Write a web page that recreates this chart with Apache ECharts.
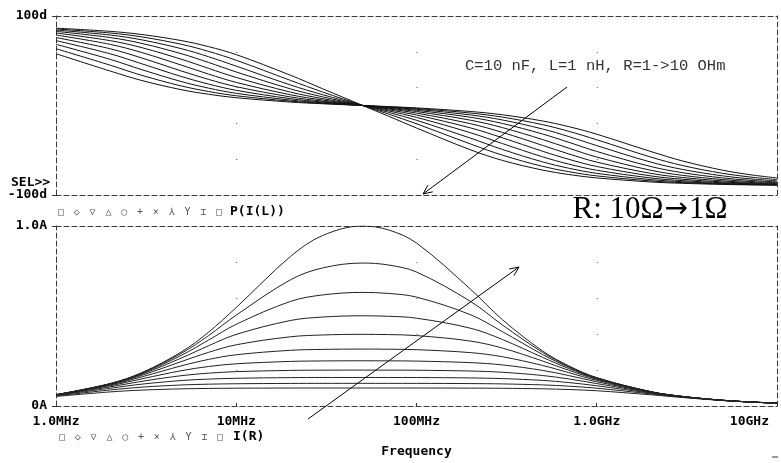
<!DOCTYPE html>
<html><head><meta charset="utf-8">
<script src="https://cdn.jsdelivr.net/npm/echarts@6/dist/echarts.min.js"></script>
<style>html,body{margin:0;padding:0;background:#fff}#c{width:781px;height:463px}</style>
</head><body><div id="c"></div>
<script>
const freqHz = [1e6,2e6,3e6,5e6,7e6,1e7,2e7,3e7,5e7,7e7,1e8,2e8,3e8,5e8,7e8,1e9,2e9,3e9,5e9,7e9,1e10];
const resistanceOhm = [1,1.26,1.58,2.0,2.51,3.16,3.98,5.01,6.31,7.94,10];
const legendSymbols = ['□','◇','▽','△','○','+','×','⅄','Y','⌶','□'];
const freqTickValues = [1e6,1e7,1e8,1e9,1e10];
const freqTickLabels = ['1.0MHz','10MHz','100MHz','1.0GHz','10GHz'];
const phaseTickLabels = ['-100d','100d'];
const currentTickLabels = ['0A','1.0A'];

// P(I(L)) phase in degrees, one array per R
const phaseR1_00 = [86.40,82.83,79.29,72.40,65.84,56.81,33.83,18.88,0.24,-12.00,-25.14,-49.65,-61.37,-72.17,-77.13,-80.93,-85.45,-86.96,-88.18,-88.70,-89.09];
const phaseR1_26 = [85.48,81.00,76.60,68.23,60.55,50.53,28.03,15.20,0.19,-9.58,-20.44,-43.08,-55.50,-67.96,-73.95,-78.64,-84.28,-86.18,-87.71,-88.36,-88.85];
const phaseR1_58 = [84.31,78.72,73.31,63.31,54.59,43.97,22.92,12.18,0.15,-7.64,-16.49,-36.60,-49.13,-62.99,-70.09,-75.81,-82.81,-85.19,-87.11,-87.94,-88.56];
const phaseR2_00 = [82.85,75.90,69.32,57.66,48.17,37.46,18.56,9.73,0.12,-6.08,-13.23,-30.54,-42.56,-57.31,-65.49,-72.34,-80.97,-83.96,-86.37,-87.40,-88.18];
const phaseR2_51 = [81.03,72.45,64.58,51.45,41.59,31.32,14.94,7.75,0.09,-4.84,-10.58,-25.11,-36.10,-51.07,-60.14,-68.16,-78.69,-82.41,-85.43,-86.73,-87.71];
const phaseR3_16 = [78.76,68.30,59.11,44.90,35.19,25.80,11.96,6.17,0.08,-3.84,-8.44,-20.42,-30.08,-44.52,-54.14,-63.23,-75.87,-80.47,-84.25,-85.89,-87.12];
const phaseR3_98 = [75.95,63.39,53.02,38.37,29.25,21.01,9.55,4.91,0.06,-3.05,-6.72,-16.47,-24.71,-37.99,-47.70,-57.58,-72.41,-78.07,-82.78,-84.83,-86.37];
const phaseR5_01 = [72.51,57.76,46.53,32.16,23.99,16.96,7.62,3.90,0.05,-2.43,-5.35,-13.22,-20.08,-31.82,-41.12,-51.35,-68.24,-75.11,-80.94,-83.50,-85.44];
const phaseR6_31 = [68.36,51.54,39.96,26.54,19.46,13.62,6.06,3.10,0.04,-1.93,-4.25,-10.57,-16.19,-26.24,-34.74,-44.81,-63.33,-71.49,-78.64,-81.84,-84.27];
const phaseR7_94 = [63.47,45.01,33.64,21.64,15.68,10.89,4.82,2.47,0.03,-1.53,-3.38,-8.43,-12.99,-21.38,-28.85,-38.27,-57.69,-67.14,-75.81,-79.76,-82.80];
const phaseR10_0 = [57.85,38.47,27.86,17.49,12.57,8.69,3.83,1.96,0.02,-1.22,-2.69,-6.71,-10.38,-17.27,-23.63,-32.08,-51.47,-62.05,-72.34,-77.19,-80.96];

// I(R) current in A, one array per R
const currentR1_00 = [0.0627,0.1249,0.1859,0.3024,0.4092,0.5474,0.8307,0.9462,1.0000,0.9781,0.9053,0.6475,0.4791,0.3061,0.2228,0.1576,0.0794,0.0530,0.0318,0.0227,0.0159];
const currentR1_26 = [0.0627,0.1243,0.1840,0.2947,0.3905,0.5049,0.7012,0.7665,0.7943,0.7832,0.7443,0.5802,0.4499,0.2981,0.2196,0.1564,0.0792,0.0529,0.0318,0.0227,0.0159];
const currentR1_58 = [0.0625,0.1234,0.1812,0.2835,0.3656,0.4541,0.5811,0.6167,0.6310,0.6253,0.6050,0.5065,0.4128,0.2865,0.2149,0.1547,0.0790,0.0529,0.0318,0.0227,0.0159];
const currentR2_00 = [0.0624,0.1221,0.1770,0.2681,0.3342,0.3978,0.4751,0.4940,0.5012,0.4984,0.4879,0.4317,0.3692,0.2706,0.2079,0.1520,0.0786,0.0528,0.0318,0.0227,0.0159];
const currentR2_51 = [0.0621,0.1200,0.1709,0.2481,0.2977,0.3401,0.3846,0.3945,0.3981,0.3967,0.3913,0.3605,0.3216,0.2501,0.1982,0.1481,0.0781,0.0526,0.0317,0.0227,0.0159];
const currentR3_16 = [0.0617,0.1169,0.1623,0.2240,0.2585,0.2847,0.3094,0.3144,0.3162,0.3155,0.3128,0.2964,0.2736,0.2255,0.1852,0.1425,0.0772,0.0523,0.0317,0.0227,0.0159];
const currentR3_98 = [0.0610,0.1125,0.1511,0.1969,0.2192,0.2345,0.2477,0.2503,0.2512,0.2508,0.2495,0.2409,0.2282,0.1979,0.1690,0.1347,0.0759,0.0519,0.0316,0.0226,0.0159];
const currentR5_01 = [0.0600,0.1065,0.1373,0.1689,0.1823,0.1908,0.1978,0.1991,0.1995,0.1993,0.1987,0.1942,0.1874,0.1695,0.1503,0.1246,0.0740,0.0513,0.0314,0.0226,0.0158];
const currentR6_31 = [0.0584,0.0986,0.1215,0.1418,0.1494,0.1540,0.1576,0.1583,0.1585,0.1584,0.1581,0.1558,0.1522,0.1422,0.1302,0.1124,0.0712,0.0503,0.0312,0.0225,0.0158];
const currentR7_94 = [0.0562,0.0890,0.1048,0.1170,0.1212,0.1236,0.1254,0.1258,0.1259,0.1258,0.1257,0.1245,0.1227,0.1172,0.1103,0.0988,0.0673,0.0489,0.0309,0.0224,0.0158];
const currentR10_0 = [0.0532,0.0783,0.0884,0.0954,0.0976,0.0989,0.0998,0.0999,0.1000,0.1000,0.0999,0.0993,0.0984,0.0955,0.0916,0.0847,0.0623,0.0469,0.0303,0.0222,0.0157];

const phaseSeries = [phaseR1_00,phaseR1_26,phaseR1_58,phaseR2_00,phaseR2_51,phaseR3_16,phaseR3_98,phaseR5_01,phaseR6_31,phaseR7_94,phaseR10_0];
const currentSeries = [currentR1_00,currentR1_26,currentR1_58,currentR2_00,currentR2_51,currentR3_16,currentR3_98,currentR5_01,currentR6_31,currentR7_94,currentR10_0];

const MONO = 'DejaVu Sans Mono';
const frameLine = {show:true, onZero:false, lineStyle:{color:'#3a3a3a', width:1, type:[5,3]}};
const dotGrid = {show:true, lineStyle:{color:'#555', width:1, type:[1,179.25]}};
const lblStyle = {fontFamily:MONO, fontWeight:'bold', fontSize:13, color:'#000'};

function freqLabel(v){
  let best = 0;
  freqTickValues.forEach((t,i)=>{ if (Math.abs(Math.log10(v/t)) < Math.abs(Math.log10(v/freqTickValues[best]))) best = i; });
  return best;
}
function logAxis(grid, pos, extra){
  return Object.assign({type:'log', logBase:10, min:1e6, max:1e10, gridIndex:grid, position:pos,
    axisLine:frameLine, axisTick:{show:false}, axisLabel:{show:false}, splitLine:{show:false}}, extra||{});
}
function valAxis(grid, pos, min, max, interval, extra){
  return Object.assign({type:'value', min:min, max:max, interval:interval, gridIndex:grid, position:pos,
    axisLine:{show:false}, axisTick:{show:false}, axisLabel:{show:false}, splitLine:{show:false}}, extra||{});
}

const series = [];
phaseSeries.forEach((arr, i) => {
  series.push({type:'line', name:'P'+resistanceOhm[i], xAxisIndex:0, yAxisIndex:0,
    data: freqHz.map((f,j)=>[f, arr[j]]), showSymbol:false, smooth:0.35,
    lineStyle:{color:'#111', width:1}, silent:true});
});
currentSeries.forEach((arr, i) => {
  series.push({type:'line', name:'I'+resistanceOhm[i], xAxisIndex:2, yAxisIndex:3,
    data: freqHz.map((f,j)=>[f, arr[j]]), showSymbol:false, smooth:0.35,
    lineStyle:{color:'#222', width:1}, silent:true});
});

function arrow(x1,y1,x2,y2){
  const a = Math.atan2(y2-y1, x2-x1), L = 10, s = 0.42;
  return [
    {type:'line', shape:{x1:x1,y1:y1,x2:x2,y2:y2}, style:{stroke:'#000', lineWidth:1}, z:100},
    {type:'polyline', shape:{points:[[x2-L*Math.cos(a-s), y2-L*Math.sin(a-s)],[x2,y2],[x2-L*Math.cos(a+s), y2-L*Math.sin(a+s)]]},
      style:{stroke:'#000', fill:null, lineWidth:1}, z:100}
  ];
}
function legendRow(y, x0, label, lx){
  const els = legendSymbols.map((s,i)=>({type:'text', x:x0+i*15.8, y:y,
    style:{text:s, fontSize:10, fill:'#555', align:'center', verticalAlign:'middle', fontFamily:MONO}}));
  els.push({type:'text', x:lx, y:y, style:{text:label, font:'bold 13px "'+MONO+'"', fill:'#000', verticalAlign:'middle'}});
  return els;
}

const graphic = [].concat(
  [{type:'text', x:11, y:183, style:{text:'SEL>>', font:'bold 13px "'+MONO+'"', fill:'#000', verticalAlign:'middle'}}],
  legendRow(212, 61, 'P(I(L))', 230),
  legendRow(437, 62, 'I(R)', 233),
  [{type:'text', x:465, y:66, style:{text:'C=10 nF, L=1 nH, R=1->10 OHm', font:'15.5px "Liberation Mono"', fill:'#333', verticalAlign:'middle'}, z:100},
   {type:'text', x:650, y:210, style:{text:'{a|R: 10Ω}{b|→}{a|1Ω}', align:'center', verticalAlign:'middle',
     rich:{a:{fontFamily:'Liberation Serif', fontSize:31, fill:'#000'}, b:{fontFamily:'DejaVu Sans', fontSize:28, fill:'#000', padding:[0,1,0,1]}}}, z:100},
   {type:'line', shape:{x1:772,y1:457,x2:778,y2:457}, style:{stroke:'#333', lineWidth:1}}],
  arrow(567,87,423,194),
  arrow(308,419,519,267)
);

const option = {
  animation:false,
  backgroundColor:'#fff',
  grid:[{left:56, right:4, top:16, height:179}, {left:56, right:4, top:226, height:180}],
  xAxis:[
    logAxis(0,'bottom'),
    logAxis(0,'top'),
    logAxis(1,'bottom', {
      axisTick:{show:true, inside:true, length:3, lineStyle:{color:'#333'}},
      axisLabel:{show:true, margin:9, showMinLabel:true, showMaxLabel:true, alignMaxLabel:'right',
        fontFamily:MONO, fontWeight:'bold', fontSize:13, color:'#000',
        formatter:(v)=>{ const i = freqLabel(v); return i===freqTickLabels.length-1 ? '{r|'+freqTickLabels[i]+'}' : freqTickLabels[i]; },
        rich:{r:{fontFamily:MONO, fontWeight:'bold', fontSize:13, color:'#000', padding:[0,8,0,0]}}},
      name:'Frequency', nameLocation:'middle', nameGap:39,
      nameTextStyle:{fontFamily:MONO, fontWeight:'bold', fontSize:13, color:'#000'}
    }),
    logAxis(1,'top')
  ],
  yAxis:[
    valAxis(0,'left',-100,100,40,{axisLine:frameLine, splitLine:dotGrid}),
    valAxis(0,'left',-100,100,200,{axisTick:{show:true, length:4, lineStyle:{color:'#333'}},
      axisLabel:Object.assign({show:true, margin:9, formatter:(v)=> v>0 ? phaseTickLabels[1] : phaseTickLabels[0]}, lblStyle)}),
    valAxis(0,'right',-100,100,40,{axisLine:frameLine}),
    valAxis(1,'left',0,1,0.2,{axisLine:frameLine, splitLine:dotGrid}),
    valAxis(1,'left',0,1,1,{axisTick:{show:true, length:4, lineStyle:{color:'#333'}},
      axisLabel:Object.assign({show:true, margin:9, formatter:(v)=> v>0.5 ? currentTickLabels[1] : currentTickLabels[0]}, lblStyle)}),
    valAxis(1,'right',0,1,0.2,{axisLine:frameLine})
  ],
  series: series,
  graphic: graphic
};
const chart = echarts.init(document.getElementById('c'), null, {renderer:'canvas'});
chart.setOption(option);
</script></body></html>
